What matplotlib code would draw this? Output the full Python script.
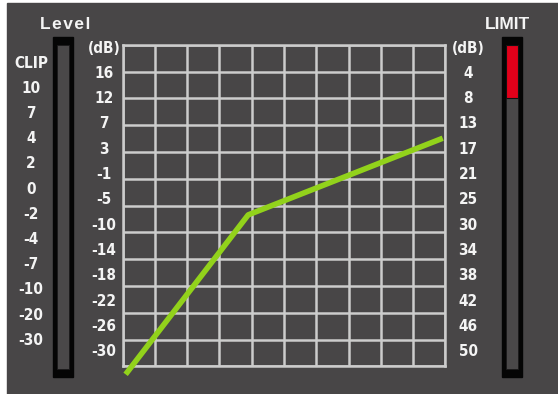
import matplotlib
matplotlib.use("Agg")
import matplotlib.pyplot as plt
from matplotlib.patches import Rectangle

# ---- data ----
level_labels = ["CLIP", "10", "7", "4", "2", "0", "-2", "-4", "-7", "-10", "-20", "-30"]
left_db_labels = ["(dB)", "16", "12", "7", "3", "-1", "-5", "-10", "-14", "-18", "-22", "-26", "-30"]
right_db_labels = ["(dB)", "4", "8", "13", "17", "21", "25", "30", "34", "38", "42", "46", "50"]
curve_x = [0.09, 3.89, 9.92]      # grid units (10 columns)
curve_y = [-0.30, 5.65, 8.51]     # grid units (12 rows)
level_fill = 0.0                  # fraction of level meter lit
limit_fill = 0.165                # fraction of limit meter lit (from top)

W, H = 558, 394
BG = "#484647"
GRID = "#cccccc"
TXT = "#f4f4f4"
GREEN = "#92d21b"
RED = "#e2001a"

fig = plt.figure(figsize=(W / 100, H / 100), dpi=100, facecolor="white")

# overlay axes in pixel coordinates
ov = fig.add_axes([0, 0, 1, 1], zorder=0)
ov.set_xlim(0, W)
ov.set_ylim(H, 0)
ov.axis("off")
ov.add_patch(Rectangle((7, 3), W - 7, H - 3, color=BG, zorder=0))

# grid axes
gx0, gx1, gy0, gy1 = 122.7, 445.3, 44.7, 366.3
ax = fig.add_axes([gx0 / W, (H - gy1) / H, (gx1 - gx0) / W, (gy1 - gy0) / H], zorder=1)
ax.set_facecolor("none")
ax.set_xlim(0, 10)
ax.set_ylim(0, 12)
ax.set_xticks(range(11))
ax.set_yticks(range(13))
ax.tick_params(length=0, labelleft=False, labelbottom=False)
ax.grid(True, color=GRID, linewidth=1.8)
for s in ax.spines.values():
    s.set_color(GRID)
    s.set_linewidth(1.8)
ax.plot(curve_x, curve_y, color=GREEN, linewidth=4.0, solid_capstyle="butt",
        clip_on=False, zorder=5)

lab_font = dict(family="DejaVu Sans", fontstretch="condensed", fontweight="bold",
                fontsize=11, color=TXT)
title_font = dict(family=["Liberation Sans", "DejaVu Sans"], fontweight="bold",
                  fontsize=12.5, color=TXT)

# titles
ov.text(65.5, 24.5, "L e v e l".replace(" ", "\u200a"), ha="center", va="center", **title_font)
ov.text(508, 24, "LIMIT", ha="center", va="center", **title_font)

# labels
for i, lab in enumerate(level_labels):
    ov.text(31, 63 + i * 25.2, lab, ha="center", va="center", **lab_font)
for i, lab in enumerate(left_db_labels):
    ov.text(104, 48 + i * 25.3, lab, ha="center", va="center", **lab_font)
for i, lab in enumerate(right_db_labels):
    ov.text(468, 48 + i * 25.3, lab, ha="center", va="center", **lab_font)

# meters
def meter(x0, x1, fill, color):
    ov.add_patch(Rectangle((x0, 37), x1 - x0, 377 - 37, color="#050505", zorder=2))
    ix0, ix1, iy0, iy1 = x0 + 4, x1 - 4, 45, 369
    ov.add_patch(Rectangle((ix0, iy0), ix1 - ix0, iy1 - iy0, facecolor="#4a4849",
                           edgecolor="#1a1a1a", linewidth=0.6, zorder=3))
    if fill > 0:
        ov.add_patch(Rectangle((ix0, iy0), ix1 - ix0, fill * (iy1 - iy0),
                               facecolor=color, edgecolor="#111111", linewidth=0.8,
                               zorder=4))

meter(53, 72.5, level_fill, GREEN)
meter(502, 522, limit_fill, RED)

fig.savefig("out.png", dpi=100, facecolor="white")
